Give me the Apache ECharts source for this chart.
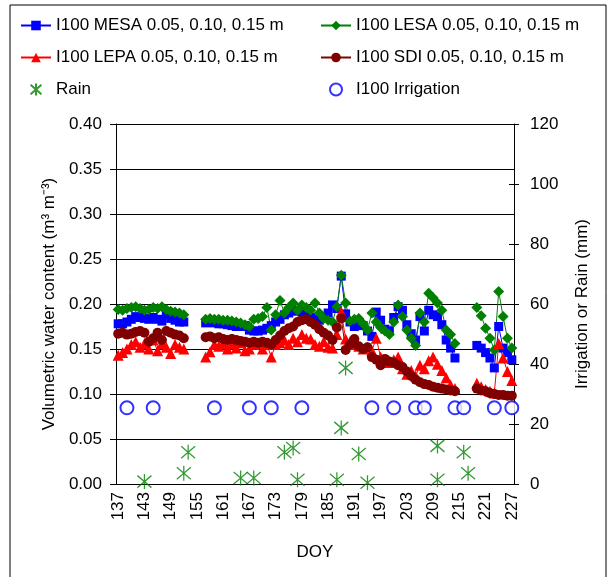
<!DOCTYPE html>
<html>
<head>
<meta charset="utf-8">
<script src="https://cdn.jsdelivr.net/npm/echarts@6/dist/echarts.min.js"></script>
<style>
  body { margin: 0; background: #fff; }
  #chart { width: 611px; height: 577px; }
</style>
</head>
<body>
<div id="chart"></div>
<script>
// day of year categories 137..227
var days = [];
for (var d = 137; d <= 227; d++) days.push(String(d));

// soil water segments (start day of each segment)
var seg1Start = 137, seg2Start = 157, seg3Start = 219;

var mesa1 = [0.178,0.178,0.180,0.183,0.186,0.185,0.184,0.183,0.185,0.183,0.181,0.188,0.184,0.182,0.180,0.180];
var mesa2 = [0.179,0.180,0.179,0.178,0.178,0.177,0.176,0.175,0.175,0.176,
             0.171,0.170,0.170,0.171,0.173,0.176,0.180,0.183,0.188,0.190,
             0.192,0.193,0.191,0.188,0.185,0.183,0.182,0.185,0.190,0.199,
             0.195,0.231,0.189,0.180,0.175,0.177,0.176,0.170,0.164,0.191,
             0.182,0.172,0.170,0.185,0.197,0.193,0.177,0.167,0.160,0.186,
             0.170,0.193,0.188,0.186,0.177,0.160,0.151,0.140];
var mesa3 = [0.154,0.151,0.146,0.140,0.129,0.175,0.151,0.146,0.138];

var lesa1 = [0.194,0.193,0.195,0.196,0.197,0.195,0.193,0.194,0.196,0.195,0.197,0.194,0.192,0.191,0.190,0.188];
var lesa2 = [0.183,0.184,0.183,0.183,0.182,0.182,0.181,0.180,0.179,0.177,
             0.175,0.183,0.184,0.186,0.196,0.171,0.188,0.204,0.190,0.196,
             0.201,0.193,0.199,0.196,0.193,0.201,0.190,0.184,0.182,0.180,
             0.197,0.232,0.201,0.181,0.183,0.184,0.178,0.171,0.190,0.180,
             0.174,0.170,0.166,0.180,0.199,0.186,0.171,0.162,0.154,0.190,
             0.180,0.212,0.207,0.201,0.193,0.171,0.166,0.156];
var lesa3 = [0.196,0.187,0.173,0.162,0.149,0.214,0.186,0.162,0.151];

var lepa1 = [0.143,0.146,0.150,0.155,0.158,0.152,0.156,0.150,0.160,0.148,0.156,0.152,0.145,0.155,0.152,0.150];
var lepa2 = [0.141,0.147,0.155,0.153,0.156,0.150,0.156,0.151,0.157,0.148,
             0.150,0.155,0.156,0.150,0.155,0.141,0.155,0.157,0.160,0.155,
             0.162,0.158,0.166,0.162,0.161,0.155,0.153,0.158,0.152,0.151,
             0.166,0.191,0.161,0.158,0.155,0.153,0.150,0.152,0.148,0.162,
             0.141,0.138,0.135,0.138,0.141,0.128,0.122,0.126,0.120,0.132,
             0.128,0.137,0.141,0.133,0.126,0.118,0.110,0.106];
var lepa3 = [0.112,0.108,0.105,0.103,0.101,0.156,0.140,0.125,0.115];

var sdi1 = [0.167,0.168,0.166,0.167,0.169,0.170,0.168,0.158,0.162,0.168,0.160,0.170,0.168,0.166,0.165,0.162];
var sdi2 = [0.163,0.164,0.162,0.163,0.161,0.160,0.161,0.160,0.159,0.158,
            0.157,0.158,0.157,0.158,0.157,0.155,0.160,0.165,0.170,0.173,
            0.175,0.180,0.182,0.183,0.180,0.177,0.172,0.168,0.165,0.160,
            0.174,0.184,0.149,0.155,0.161,0.153,0.150,0.152,0.141,0.138,
            0.132,0.139,0.136,0.135,0.132,0.130,0.125,0.120,0.116,0.113,
            0.111,0.110,0.108,0.107,0.106,0.105,0.104,0.103];
var sdi3 = [0.106,0.104,0.103,0.101,0.100,0.099,0.099,0.098,0.098];

// rain and irrigation (mm), right axis
var rainDays = [143,152,153,165,168,175,177,178,187,188,189,192,194,210,210,216,217];
var rainMm   = [0.8,3.6,10.6,2.0,2.0,10.6,12.0,1.4,1.4,18.7,38.7,10.0,0.4,1.4,12.7,10.6,3.6];
var irrDays  = [139,145,159,167,172,179,195,200,205,207,214,216,223,227];
var irrMm    = [25.4,25.4,25.4,25.4,25.4,25.4,25.4,25.4,25.4,25.4,25.4,25.4,25.4,25.4];

function build(a, b, c) {
  var out = days.map(function () { return null; });
  [[seg1Start, a], [seg2Start, b], [seg3Start, c]].forEach(function (s) {
    s[1].forEach(function (v, i) { out[s[0] - 137 + i] = v; });
  });
  return out;
}
function pts(ds, vs) {
  return ds.map(function (d, i) { return [String(d), vs[i]]; });
}

var font = 'Arial, "Liberation Sans", sans-serif';
var star = 'path://M0,-10L0,10M-9,-8L9,8M-9,8L9,-8';

var chart = echarts.init(document.getElementById('chart'));
chart.setOption({
  animation: false,
  textStyle: { fontFamily: font, color: '#000' },
  graphic: [{
    type: 'rect', shape: { x: 10, y: 5, width: 596, height: 590 },
    style: { fill: 'none', stroke: '#000', lineWidth: 1 }, silent: true
  }],
  legend: [{
    orient: 'vertical', left: 15, top: 12, itemGap: 15, itemWidth: 30, itemHeight: 12,
    textStyle: { fontSize: 17, color: '#000', fontFamily: font },
    data: ['I100 MESA 0.05, 0.10, 0.15 m', 'I100 LEPA 0.05, 0.10, 0.15 m', 'Rain']
  }, {
    orient: 'vertical', left: 315, top: 12, itemGap: 15, itemWidth: 30, itemHeight: 12,
    textStyle: { fontSize: 17, color: '#000', fontFamily: font },
    data: ['I100 LESA 0.05, 0.10, 0.15 m', 'I100 SDI 0.05, 0.10, 0.15 m', 'I100 Irrigation']
  }],
  grid: { left: 116, right: 97, top: 124, bottom: 93 },
  xAxis: {
    type: 'category', data: days, boundaryGap: true,
    name: 'DOY', nameLocation: 'middle', nameGap: 60,
    nameTextStyle: { fontSize: 17, color: '#000' },
    axisLine: { lineStyle: { color: '#000' } },
    axisTick: { interval: 5, length: 5, lineStyle: { color: '#000' } },
    axisLabel: { interval: 5, rotate: 90, fontSize: 17, color: '#000', margin: 8 }
  },
  yAxis: [{
    type: 'value', min: 0, max: 0.4, interval: 0.05, position: 'left',
    name: 'Volumetric water content (m³ m⁻³)', nameLocation: 'middle', nameGap: 58,
    nameTextStyle: { fontSize: 17, color: '#000' },
    axisLine: { show: true, lineStyle: { color: '#000' } },
    axisTick: { show: true, length: 6, lineStyle: { color: '#000' } },
    axisLabel: { fontSize: 17, color: '#000', margin: 14, formatter: function (v) { return v.toFixed(2); } },
    splitLine: { lineStyle: { color: '#000', width: 1 } }
  }, {
    type: 'value', min: 0, max: 120, interval: 20, position: 'right',
    name: 'Irrigation or Rain (mm)', nameLocation: 'middle', nameGap: 60, nameRotate: 90,
    nameTextStyle: { fontSize: 17, color: '#000' },
    axisLine: { show: true, lineStyle: { color: '#000' } },
    axisTick: { show: true, length: 5, lineStyle: { color: '#000' } },
    axisLabel: { fontSize: 17, color: '#000', margin: 16 },
    splitLine: { show: false }
  }, {
    type: 'value', min: 0, max: 120, interval: 20, position: 'right',
    axisLine: { show: false },
    axisTick: { show: true, inside: true, length: 5, lineStyle: { color: '#000' } },
    axisLabel: { show: false }, splitLine: { show: false }
  }],
  series: [{
    name: 'I100 MESA 0.05, 0.10, 0.15 m', type: 'line', showAllSymbol: true,
    data: build(mesa1, mesa2, mesa3), symbol: 'rect', symbolSize: 9,
    color: '#0000ff', lineStyle: { width: 1 }
  }, {
    name: 'I100 LESA 0.05, 0.10, 0.15 m', type: 'line', showAllSymbol: true,
    data: build(lesa1, lesa2, lesa3), symbol: 'diamond', symbolSize: 11,
    color: '#008000', lineStyle: { width: 1 }
  }, {
    name: 'I100 LEPA 0.05, 0.10, 0.15 m', type: 'line', showAllSymbol: true,
    data: build(lepa1, lepa2, lepa3), symbol: 'triangle', symbolSize: 11,
    color: '#ff0000', lineStyle: { width: 1 }
  }, {
    name: 'I100 SDI 0.05, 0.10, 0.15 m', type: 'line', showAllSymbol: true,
    data: build(sdi1, sdi2, sdi3), symbol: 'circle', symbolSize: 10,
    color: '#800000', lineStyle: { width: 1 }
  }, {
    name: 'Rain', type: 'scatter', yAxisIndex: 1,
    data: pts(rainDays, rainMm), symbol: star, symbolSize: [14, 15],
    itemStyle: { color: 'rgba(0,0,0,0)', borderColor: '#008000', borderWidth: 1.3 }
  }, {
    name: 'I100 Irrigation', type: 'scatter', yAxisIndex: 1,
    data: pts(irrDays, irrMm), symbol: 'emptyCircle', symbolSize: 13,
    itemStyle: { color: '#0000ff', borderColor: '#0000ff', borderWidth: 1.2 }
  }]
});
</script>
</body>
</html>
